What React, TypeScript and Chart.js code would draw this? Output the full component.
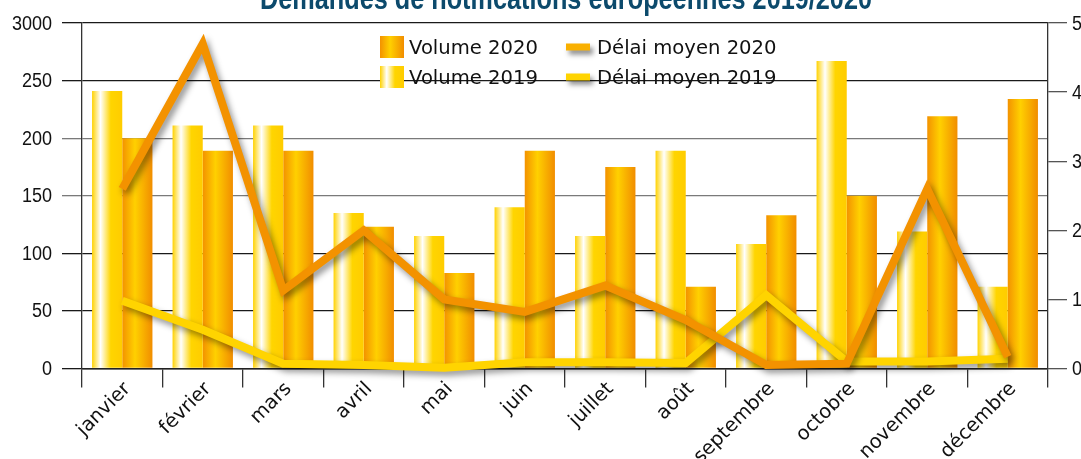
import React, { useEffect, useRef } from 'react';
import { Chart, registerables } from 'chart.js';
Chart.register(...registerables);

const months = ['janvier', 'février', 'mars', 'avril', 'mai', 'juin', 'juillet', 'août', 'septembre', 'octobre', 'novembre', 'décembre'];
const volume2019 = [241, 211, 211, 135, 115, 140, 115, 189, 108, 267, 119, 71];
const volume2020 = [200, 189, 189, 123, 83, 189, 175, 71, 133, 150, 219, 234];
const delai2020 = [2.6, 4.7, 1.13, 2.0, 1.0, 0.82, 1.2, 0.7, 0.05, 0.07, 2.6, 0.17];
const delai2019 = [0.98, 0.56, 0.07, 0.05, 0.01, 0.09, 0.09, 0.08, 1.06, 0.1, 0.1, 0.14];
const leftTicks = [0, 50, 100, 150, 200, 250, 300];
const leftTickLabels = ['0', '50', '100', '150', '200', '250', '3000'];
const rightTicks = [0, 1, 2, 3, 4, 5];
const rightTickLabels = ['0', '1', '2', '3', '4', '5'];
const titleText = 'Demandes de notifications européennes 2019/2020';
const legendVolume2020 = 'Volume 2020';
const legendVolume2019 = 'Volume 2019';
const legendDelai2020 = 'Délai moyen 2020';
const legendDelai2019 = 'Délai moyen 2019';

const SANS = "'Liberation Sans', Arial, sans-serif";
const WIDE = "'DejaVu Sans', Verdana, sans-serif";

type Stop = [number, string];
const stops2019: Stop[] = [[0, '#FFD200'], [0.28, '#FFFFFF'], [0.62, '#FFD500'], [1, '#FFCC00']];
const stops2020: Stop[] = [[0, '#F39200'], [0.42, '#FFD000'], [1, '#F18D00']];

function grad(ctx: CanvasRenderingContext2D, left: number, width: number, stops: Stop[]) {
  const g = ctx.createLinearGradient(left, 0, left + width, 0);
  stops.forEach(([o, c]) => g.addColorStop(o, c));
  return g;
}

const barBg = (which: number) => (c: any) => {
  const chart = c.chart;
  const xs = chart.scales && chart.scales.x;
  if (!xs || c.dataIndex == null || !chart.chartArea) return which === 0 ? '#FFD200' : '#F39200';
  const center = xs.getPixelForValue(c.dataIndex);
  const cw = xs.width / months.length;
  const bw = (cw * 0.75) / 2;
  const left = which === 0 ? center - bw : center;
  return grad(chart.ctx, left, bw, which === 0 ? stops2019 : stops2020);
};

const shadowPlugin = {
  id: 'lineShadow',
  beforeDatasetDraw(chart: any, args: any) {
    const ds = chart.data.datasets[args.index];
    if (ds.type === 'line') {
      const ctx = chart.ctx;
      ctx.save();
      ctx.shadowColor = 'rgba(0,0,0,0.42)';
      ctx.shadowBlur = 6;
      ctx.shadowOffsetX = 3;
      ctx.shadowOffsetY = 4;
    }
  },
  afterDatasetDraw(chart: any, args: any) {
    const ds = chart.data.datasets[args.index];
    if (ds.type === 'line') chart.ctx.restore();
  },
};

function condensedText(ctx: CanvasRenderingContext2D, text: string, x: number, y: number, align: 'left' | 'right', sx: number) {
  ctx.save();
  ctx.translate(x, y);
  ctx.scale(sx, 1);
  ctx.textAlign = align;
  ctx.fillText(text, 0, 0);
  ctx.restore();
}

const decorPlugin = {
  id: 'decor',
  afterDraw(chart: any) {
    const ctx: CanvasRenderingContext2D = chart.ctx;
    // title (condensed by horizontal scaling)
    ctx.save();
    ctx.font = `bold 31px ${SANS}`;
    const w = ctx.measureText(titleText).width;
    const sx = 612 / w;
    ctx.translate(566, 9);
    ctx.scale(sx, 1);
    ctx.fillStyle = '#0C4A6C';
    ctx.textAlign = 'center';
    ctx.textBaseline = 'alphabetic';
    ctx.fillText(titleText, 0, 0);
    ctx.restore();

    // y tick labels (condensed)
    const ys = chart.scales.y;
    const ys1 = chart.scales.y1;
    ctx.save();
    ctx.font = `20px ${SANS}`;
    ctx.fillStyle = '#111';
    ctx.textBaseline = 'middle';
    leftTicks.forEach((v, i) => {
      condensedText(ctx, leftTickLabels[i], 52, ys.getPixelForValue(v) + 1, 'right', 0.9);
    });
    rightTicks.forEach((v, i) => {
      condensedText(ctx, rightTickLabels[i], 1072, ys1.getPixelForValue(v) + 1, 'left', 0.9);
    });
    ctx.restore();

    // x labels
    const xs = chart.scales.x;
    const base = chart.chartArea.bottom;
    ctx.save();
    ctx.font = `19.5px ${WIDE}`;
    ctx.fillStyle = '#111';
    ctx.textAlign = 'right';
    ctx.textBaseline = 'alphabetic';
    months.forEach((m, i) => {
      const x = xs.getPixelForValue(i);
      ctx.save();
      ctx.translate(x + 9, base + 21);
      ctx.rotate(-Math.PI / 4);
      ctx.fillText(m, 0, 0);
      ctx.restore();
    });
    ctx.restore();

    // legend
    ctx.save();
    ctx.fillStyle = grad(ctx, 380, 24, stops2020);
    ctx.fillRect(380, 36, 24, 22);
    ctx.fillStyle = grad(ctx, 380, 24, stops2019);
    ctx.fillRect(380, 66, 24, 22);

    ctx.save();
    ctx.shadowColor = 'rgba(0,0,0,0.45)';
    ctx.shadowBlur = 5;
    ctx.shadowOffsetX = 3;
    ctx.shadowOffsetY = 4;
    ctx.fillStyle = '#F9B000';
    ctx.fillRect(566, 43.5, 24, 7);
    ctx.fillStyle = '#FFD400';
    ctx.fillRect(566, 73.5, 24, 7);
    ctx.restore();

    ctx.fillStyle = '#111';
    ctx.font = `19.6px ${WIDE}`;
    ctx.textAlign = 'left';
    ctx.textBaseline = 'alphabetic';
    ctx.fillText(legendVolume2020, 409, 54.3);
    ctx.fillText(legendVolume2019, 409, 84.3);
    ctx.fillText(legendDelai2020, 597, 54.3);
    ctx.fillText(legendDelai2019, 597, 84.3);
    ctx.restore();
  },
};

export default function App() {
  const ref = useRef<HTMLCanvasElement | null>(null);
  useEffect(() => {
    document.body.style.margin = '0';
    const canvas = ref.current;
    if (!canvas) return;
    const chart = new Chart(canvas, {
      type: 'bar',
      data: {
        labels: months,
        datasets: [
          {
            type: 'line', label: legendDelai2020, data: delai2020, yAxisID: 'y1',
            borderColor: '#F39200', backgroundColor: '#F39200', borderWidth: 8, pointRadius: 0,
            tension: 0, borderJoinStyle: 'miter', borderCapStyle: 'butt', order: 0, clip: false,
          } as any,
          {
            type: 'line', label: legendDelai2019, data: delai2019, yAxisID: 'y1',
            borderColor: '#FFD400', backgroundColor: '#FFD400', borderWidth: 8, pointRadius: 0,
            tension: 0, borderJoinStyle: 'miter', borderCapStyle: 'butt', order: 1, clip: false,
          } as any,
          {
            type: 'bar', label: legendVolume2019, data: volume2019, yAxisID: 'y',
            backgroundColor: barBg(0), borderWidth: 0, order: 2, categoryPercentage: 0.75, barPercentage: 1,
          } as any,
          {
            type: 'bar', label: legendVolume2020, data: volume2020, yAxisID: 'y',
            backgroundColor: barBg(1), borderWidth: 0, order: 3, categoryPercentage: 0.75, barPercentage: 1,
          } as any,
        ],
      },
      options: {
        responsive: false,
        animation: false,
        devicePixelRatio: 1,
        layout: { padding: { top: 23, left: 0, right: 0, bottom: 0 } },
        plugins: { legend: { display: false }, tooltip: { enabled: false }, title: { display: false } },
        scales: {
          x: {
            offset: true,
            grid: { offset: true, drawOnChartArea: false, drawTicks: true, tickLength: 19, color: '#333', lineWidth: 1.3 },
            border: { display: true, color: '#222', width: 1.5 },
            ticks: { display: false, autoSkip: false },
            afterFit: (s: any) => { s.height = 90.5; },
          },
          y: {
            position: 'left', min: 0, max: 300,
            afterBuildTicks: (s: any) => { s.ticks = leftTicks.map((v) => ({ value: v })); },
            ticks: { display: false },
            grid: {
              color: (c: any) => (c.tick && (c.tick.value === 150 || c.tick.value === 200) ? '#7a7a7a' : '#1a1a1a'),
              lineWidth: 1.3, tickLength: 20, drawTicks: true,
            },
            border: { display: true, color: '#333', width: 1.3 },
            afterFit: (s: any) => { s.width = 82; },
          },
          y1: {
            position: 'right', min: 0, max: 5,
            afterBuildTicks: (s: any) => { s.ticks = rightTicks.map((v) => ({ value: v })); },
            ticks: { display: false },
            grid: { drawOnChartArea: false, drawTicks: true, tickLength: 19, color: '#555', lineWidth: 1.3 },
            border: { display: true, color: '#333', width: 1.3 },
            afterFit: (s: any) => { s.width = 33; },
          },
        } as any,
      },
      plugins: [shadowPlugin, decorPlugin],
    } as any);
    return () => chart.destroy();
  }, []);
  return (
    <div style={{ width: 1081, height: 459, position: 'relative' }}>
      <canvas ref={ref} width={1081} height={459} style={{ display: 'block', width: 1081, height: 459 }} />
    </div>
  );
}
